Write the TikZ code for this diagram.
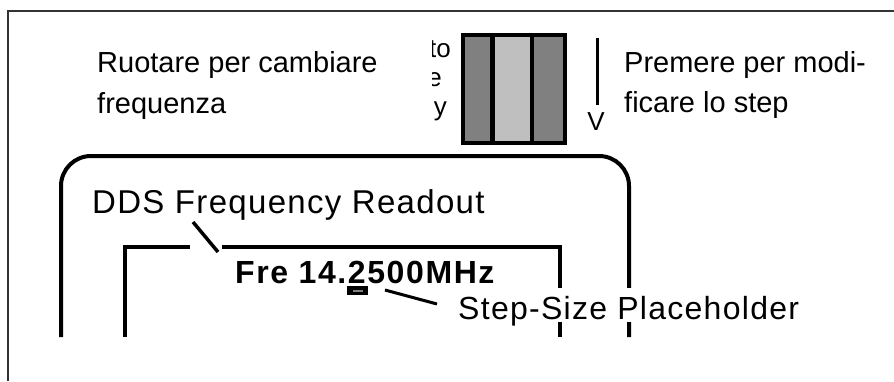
\documentclass[tikz,border=0pt]{standalone}
\usepackage{fontspec}
\setmainfont{Liberation Sans}
\usetikzlibrary{calc}

\tikzset{
  lbl/.style={anchor=base west,inner sep=0pt,
    font=\fontsize{29}{34}\selectfont},
  oldlbl/.style={anchor=base east,inner sep=0pt,
    text height=15pt,text depth=0pt,
    font=\fontsize{26}{30}\selectfont},
  bigLbl/.style={anchor=base west,inner sep=0pt,
    font=\fontsize{33}{38}\selectfont\addfontfeatures{LetterSpace=4}},
  readout/.style={anchor=base west,inner sep=0pt,
    font=\fontsize{32}{36}\selectfont\bfseries\addfontfeatures{LetterSpace=5}},
  stepLbl/.style={anchor=base west,inner sep=0pt,fill=white,
    text height=31pt,text depth=3pt,
    font=\fontsize{32}{36}\selectfont\addfontfeatures{LetterSpace=4}},
  thick line/.style={line width=4pt},
}

\begin{document}
\begin{tikzpicture}[x=1pt,y=-1pt]
\useasboundingbox (0,0) rectangle (894,381);

% Outer frame
\draw[line width=1.5pt,black!80] (8,381)--(8,11)--(894,11);

% Knob labels
\node[lbl] (rotA) at (97,72) {Ruotare per cambiare};
\node[lbl] (rotB) at (97,113) {frequenza};
\node[lbl] (pushA) at (624,72) {Premere per modi-};
\node[lbl] (pushB) at (624,112) {ficare lo step};

% Leftover text beside the knob
\begin{scope}
\clip (432,25) rectangle (458,135);
\node[oldlbl] (oldA) at (451,57) {to};
\node[oldlbl] (oldB) at (442,86) {e};
\node[oldlbl,text depth=6pt] (oldC) at (447,115) {y};
\end{scope}

% Knob
\fill (461,33) rectangle (567,145);
\fill[gray] (465,37) rectangle (490,141);
\fill[black!25] (495,37) rectangle (530,141);
\fill[gray] (534,37) rectangle (563,141);

% Push mark
\coordinate (pushTop) at (597,38);
\node[anchor=base,inner sep=0pt,font=\fontsize{26}{30}\selectfont] (pushV) at (596,130) {V};
\draw[line width=3pt] (pushTop)--(597,105);

% Display housing
\draw[thick line,rounded corners=30pt] (61,337)--(61,156)--(629,156)--(629,337);

% LCD window
\draw[thick line] (190,247)--(125,247)--(125,337);
\draw[thick line] (222,247)--(560,247)--(560,337);

% Readout
\node[readout] (freq) at (235,283) {Fre 14.2500MHz};

% Step marker
\fill (347,286) rectangle (368,295);
\draw[gray,line width=2pt] (353,290.5)--(363,290.5);

% Callouts
\node[bigLbl] (dds) at (92,213) {DDS Frequency Readout};
\coordinate (ddsFoot) at (193,222);
\coordinate (ddsTip) at (218,252);
\draw[line width=3.5pt] (ddsFoot)--(ddsTip);

\node[stepLbl] (stepTxt) at (458,319) {Step-Size Placeholder};
\coordinate (markEnd) at (385,290);
\coordinate (stepEnd) at (437,304);
\draw[line width=3pt] (markEnd)--(stepEnd);

\end{tikzpicture}
\end{document}
